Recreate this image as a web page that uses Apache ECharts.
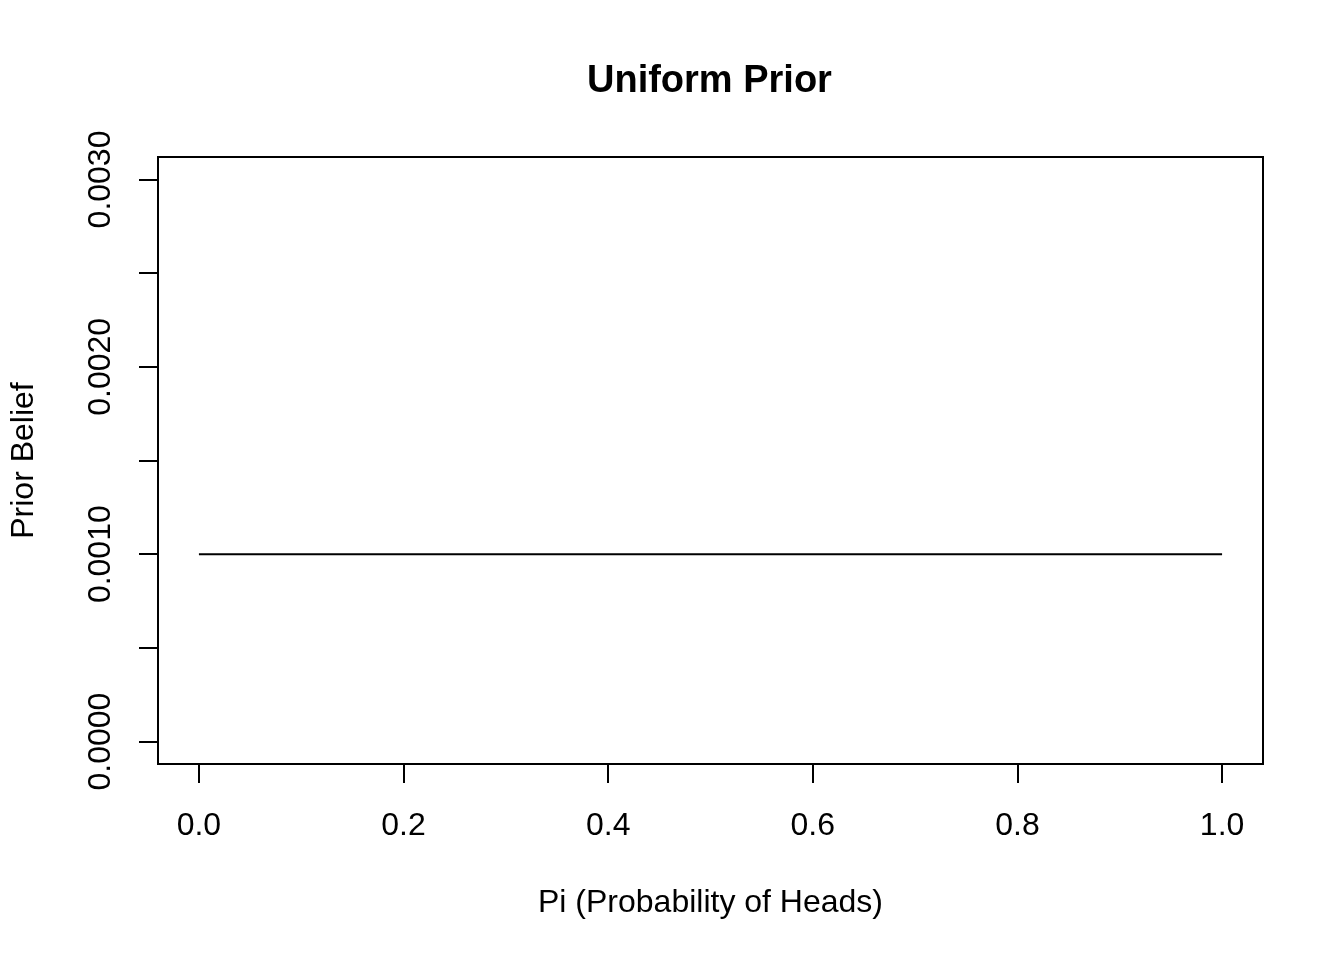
<!DOCTYPE html>
<html>
<head>
<meta charset="utf-8">
<script src="https://cdn.jsdelivr.net/npm/echarts@6/dist/echarts.min.js"></script>
<style>html,body{margin:0;padding:0;background:#fff;}#c{width:1344px;height:960px;}</style>
</head>
<body>
<div id="c"></div>
<script>
// Data
const piValues = [0, 1];
const priorValues = [0.001, 0.001];
const xTicks = [0, 0.2, 0.4, 0.6, 0.8, 1.0];
const yTicks = [0, 0.0005, 0.001, 0.0015, 0.002, 0.0025, 0.003];
const yLabelTicks = [0, 0.001, 0.002, 0.003];
const titleText = 'Uniform Prior';
const xName = 'Pi (Probability of Heads)';
const yName = 'Prior Belief';

const FONT = "'Liberation Sans', Arial, Helvetica, sans-serif";
const chart = echarts.init(document.getElementById('c'), null, {renderer: 'canvas'});
chart.setOption({
  animation: false,
  backgroundColor: '#ffffff',
  title: {
    text: titleText,
    left: 582, top: 58,
    textStyle: {fontFamily: FONT, fontSize: 38, fontWeight: 'bold', color: '#000'}
  },
  grid: {
    left: 157, top: 157, width: 1106, height: 607,
    show: true, borderColor: '#000', borderWidth: 2, backgroundColor: 'transparent'
  },
  xAxis: {
    type: 'value', min: -0.04, max: 1.04,
    name: xName, nameLocation: 'middle', nameGap: 123,
    nameTextStyle: {fontFamily: FONT, fontSize: 32, color: '#000'},
    axisLine: {show: false, onZero: false},
    splitLine: {show: false},
    axisTick: {show: true, inside: false, length: 19, customValues: xTicks, lineStyle: {color: '#000', width: 2}},
    axisLabel: {show: true, margin: 46, customValues: xTicks, fontFamily: FONT, fontSize: 32, color: '#000',
      formatter: v => v.toFixed(1)}
  },
  yAxis: {
    type: 'value', min: -0.00012, max: 0.00312,
    name: yName, nameLocation: 'middle', nameGap: 118, nameRotate: 90,
    nameTextStyle: {fontFamily: FONT, fontSize: 32, color: '#000'},
    axisLine: {show: false, onZero: false},
    splitLine: {show: false},
    axisTick: {show: true, inside: false, length: 19, customValues: yTicks, lineStyle: {color: '#000', width: 2}},
    axisLabel: {show: true, margin: 41, rotate: 90, customValues: yLabelTicks, fontFamily: FONT, fontSize: 32, color: '#000',
      formatter: v => v.toFixed(4)}
  },
  series: [{
    type: 'line',
    data: piValues.map((x, i) => [x, priorValues[i]]),
    showSymbol: false,
    lineStyle: {color: '#000', width: 2},
    itemStyle: {color: '#000'}
  }]
});
</script>
</body>
</html>
